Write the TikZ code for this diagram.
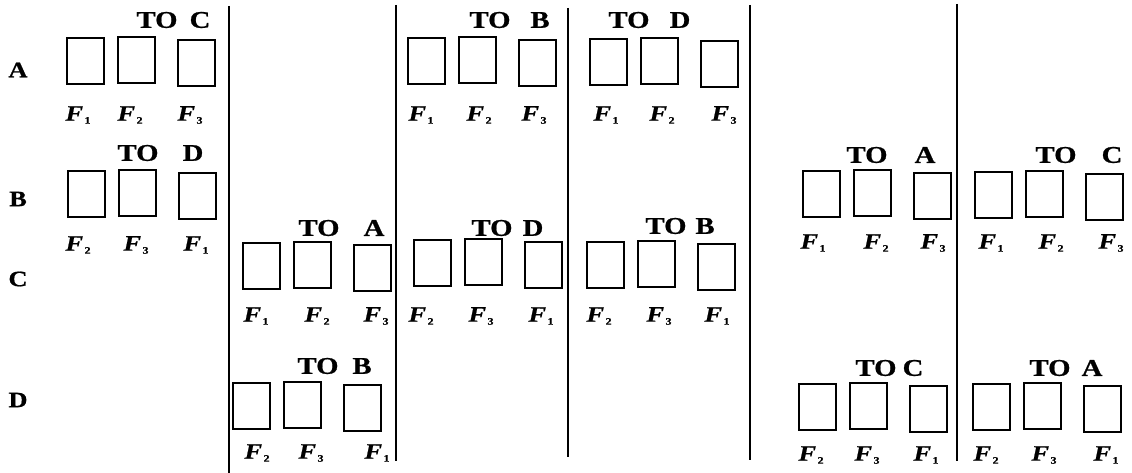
\documentclass[tikz,border=0pt]{standalone}
\usepackage{fontspec}
\setmainfont{Liberation Serif}
\newfontfamily\widebold[FakeStretch=1.2,FakeBold=0.8]{Liberation Serif}
\newfontfamily\wideital[FakeStretch=1.2,FakeBold=0.8]{Liberation Serif}
\begin{document}
\begin{tikzpicture}[x=1pt,y=-1pt,
  cell/.style={draw,line width=2.3pt,anchor=north west,inner sep=0pt,
               minimum width=37pt,minimum height=46pt},
  head/.style={inner sep=0pt,font=\widebold\fontsize{24}{26}\selectfont\bfseries},
  row/.style={inner sep=0pt,font=\widebold\fontsize{22}{24}\selectfont\bfseries},
  flab/.style={inner sep=0pt,font=\wideital\fontsize{22}{24}\selectfont},
  divider/.style={line width=2.8pt}]
\useasboundingbox (0,0) rectangle (1132,473);

% three boxes of one group: name, left x, top y
\newcommand{\boxtrio}[3]{%
  \node[cell] (#1-1) at (#2,#3) {};
  \node[cell] (#1-2) at (#2+51,#3-1) {};
  \node[cell] (#1-3) at (#2+111,#3+2) {};}
\newcommand{\Fsub}[1]{{\bfseries\itshape F}\kern1.5pt\raisebox{-3pt}{\bfseries\fontsize{10}{10}\selectfont #1}}

% row labels
\node[row] (rA) at (18,70) {A};
\node[row] (rB) at (18,199) {B};
\node[row] (rC) at (18,279) {C};
\node[row] (rD) at (18,400) {D};

% dividers
\coordinate (d1t) at (229,6);   \coordinate (d1b) at (229,473);
\coordinate (d2t) at (396,5);   \coordinate (d2b) at (396,461);
\coordinate (d3t) at (568,8);   \coordinate (d3b) at (568,457);
\coordinate (d4t) at (750,5);   \coordinate (d4b) at (750,460);
\coordinate (d5t) at (957,4);   \coordinate (d5b) at (957,461);
\draw[divider] (d1t) -- (d1b);
\draw[divider] (d2t) -- (d2b);
\draw[divider] (d3t) -- (d3b);
\draw[divider] (d4t) -- (d4b);
\draw[divider] (d5t) -- (d5b);

% A to C
\boxtrio{ac}{66}{37}
\node[head] (ac-to) at (157,20) {TO};
\node[head] (ac-d) at (200,20) {C};
\node[flab] (ac-f1) at (78,115) {\Fsub{1}};
\node[flab] (ac-f2) at (130,115) {\Fsub{2}};
\node[flab] (ac-f3) at (190,115) {\Fsub{3}};

% B to D
\boxtrio{bd}{67}{170}
\node[head] (bd-to) at (138,153) {TO};
\node[head] (bd-d) at (193,153) {D};
\node[flab] (bd-f2) at (78,245) {\Fsub{2}};
\node[flab] (bd-f3) at (136,245) {\Fsub{3}};
\node[flab] (bd-f1) at (196,245) {\Fsub{1}};

% C to A
\boxtrio{ca}{242}{242}
\node[head] (ca-to) at (319,228) {TO};
\node[head] (ca-d) at (374,228) {A};
\node[flab] (ca-f1) at (256,316) {\Fsub{1}};
\node[flab] (ca-f2) at (317,316) {\Fsub{2}};
\node[flab] (ca-f3) at (376,316) {\Fsub{3}};

% D to B
\boxtrio{db}{232}{382}
\node[head] (db-to) at (318,366) {TO};
\node[head] (db-d) at (362,366) {B};
\node[flab] (db-f2) at (257,453) {\Fsub{2}};
\node[flab] (db-f3) at (311,453) {\Fsub{3}};
\node[flab] (db-f1) at (377,453) {\Fsub{1}};

% A to B
\boxtrio{ab}{407}{37}
\node[head] (ab-to) at (490,20) {TO};
\node[head] (ab-d) at (540,20) {B};
\node[flab] (ab-f1) at (421,115) {\Fsub{1}};
\node[flab] (ab-f2) at (479,115) {\Fsub{2}};
\node[flab] (ab-f3) at (534,115) {\Fsub{3}};

% C to D
\boxtrio{cd}{413}{239}
\node[head] (cd-to) at (492,228) {TO};
\node[head] (cd-d) at (533,228) {D};
\node[flab] (cd-f2) at (421,316) {\Fsub{2}};
\node[flab] (cd-f3) at (481,316) {\Fsub{3}};
\node[flab] (cd-f1) at (541,316) {\Fsub{1}};

% A to D
\boxtrio{ad}{589}{38}
\node[head] (ad-to) at (629,20) {TO};
\node[head] (ad-d) at (680,20) {D};
\node[flab] (ad-f1) at (606,115) {\Fsub{1}};
\node[flab] (ad-f2) at (662,115) {\Fsub{2}};
\node[flab] (ad-f3) at (724,115) {\Fsub{3}};

% C to B
\boxtrio{cb}{586}{241}
\node[head] (cb-to) at (666,226) {TO};
\node[head] (cb-d) at (705,226) {B};
\node[flab] (cb-f2) at (599,316) {\Fsub{2}};
\node[flab] (cb-f3) at (659,316) {\Fsub{3}};
\node[flab] (cb-f1) at (717,316) {\Fsub{1}};

% B to A
\boxtrio{ba}{802}{170}
\node[head] (ba-to) at (867,155) {TO};
\node[head] (ba-d) at (925,155) {A};
\node[flab] (ba-f1) at (813,243) {\Fsub{1}};
\node[flab] (ba-f2) at (876,243) {\Fsub{2}};
\node[flab] (ba-f3) at (933,243) {\Fsub{3}};

% B to C
\boxtrio{bc}{974}{171}
\node[head] (bc-to) at (1056,155) {TO};
\node[head] (bc-d) at (1112,155) {C};
\node[flab] (bc-f1) at (991,243) {\Fsub{1}};
\node[flab] (bc-f2) at (1051,243) {\Fsub{2}};
\node[flab] (bc-f3) at (1111,243) {\Fsub{3}};

% D to C
\boxtrio{dc}{798}{383}
\node[head] (dc-to) at (876,368) {TO};
\node[head] (dc-d) at (913,368) {C};
\node[flab] (dc-f2) at (811,455) {\Fsub{2}};
\node[flab] (dc-f3) at (867,455) {\Fsub{3}};
\node[flab] (dc-f1) at (926,455) {\Fsub{1}};

% D to A
\boxtrio{da}{972}{383}
\node[head] (da-to) at (1050,368) {TO};
\node[head] (da-d) at (1092,368) {A};
\node[flab] (da-f2) at (986,455) {\Fsub{2}};
\node[flab] (da-f3) at (1044,455) {\Fsub{3}};
\node[flab] (da-f1) at (1106,455) {\Fsub{1}};
\end{tikzpicture}
\end{document}
